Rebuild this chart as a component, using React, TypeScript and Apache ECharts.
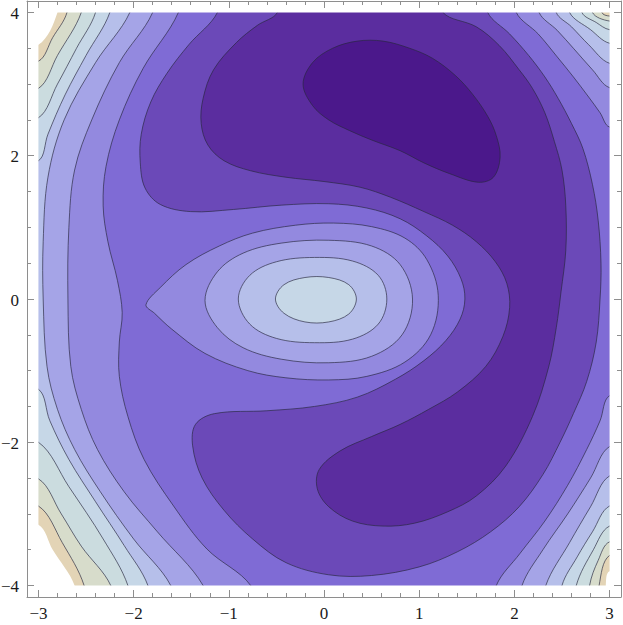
import React, { useEffect, useRef } from "react";
import * as echarts from "echarts";

type Pt = [number, number];

// ---------- axes ----------
const xRange: Pt = [-3, 3];
const yRange: Pt = [-4, 4];
const xMajorTicks = [-3, -2, -1, 0, 1, 2, 3];
const yMajorTicks = [-4, -2, 0, 2, 4];
const xMinorStep = 0.2;
const yMinorStep = 0.5;

// ---------- band colours, lowest value (0) to highest (10) ----------
const bandColors = [
  "#4b188b",
  "#5b2d9f",
  "#6b49b8",
  "#7f6bd5",
  "#9389df",
  "#a5a4e7",
  "#b6bfea",
  "#c6d7e7",
  "#cbdcdf",
  "#d7dccb",
  "#e3d4b6",
];

// ---------- closed contours inside the plot ----------
const blobLevel0: Pt[] = [
  [-0.22, 3.0], [-0.12, 3.3], [0.09, 3.5], [0.35, 3.6], [0.62, 3.6], [0.9, 3.5],
  [1.14, 3.36], [1.38, 3.12], [1.56, 2.86], [1.72, 2.55], [1.81, 2.28], [1.85, 1.98],
  [1.78, 1.7], [1.62, 1.63], [1.32, 1.75], [1.05, 1.9], [0.8, 2.07], [0.5, 2.22],
  [0.27, 2.35], [0.05, 2.5], [-0.12, 2.7],
];

const regionLevel1: Pt[] = [
  [1.25, 4], [1.6, 3.8], [1.84, 3.54], [2.05, 3.2], [2.19, 2.94], [2.32, 2.6], [2.42, 2.2],
  [2.5, 1.8], [2.54, 1.3], [2.54, 0.68], [2.49, 0.1], [2.44, -0.4], [2.36, -0.95],
  [2.19, -1.64], [1.91, -2.33], [1.6, -2.75], [1.3, -2.97], [0.95, -3.13], [0.62, -3.17],
  [0.3, -3.1], [0.05, -2.9], [-0.07, -2.65], [-0.05, -2.38], [0.17, -2.12], [0.5, -1.92],
  [0.8, -1.75], [1.1, -1.54], [1.4, -1.3], [1.7, -0.94], [1.88, -0.52], [1.95, -0.12],
  [1.92, 0.22], [1.8, 0.52], [1.6, 0.8], [1.35, 1.03], [1.05, 1.22], [0.7, 1.42],
  [0.38, 1.56], [0, 1.64], [-0.4, 1.7], [-0.77, 1.79], [-1.05, 1.93], [-1.22, 2.15],
  [-1.29, 2.45], [-1.27, 2.8], [-1.16, 3.2], [-0.92, 3.58], [-0.7, 3.82], [-0.49, 4],
];

const regionLevel2: Pt[] = [
  [1.72, 4], [1.95, 3.7], [2.15, 3.4], [2.32, 3.1], [2.46, 2.8], [2.6, 2.45], [2.72, 2.1],
  [2.82, 1.6], [2.88, 1.1], [2.91, 0.5], [2.9, 0], [2.86, -0.6], [2.76, -1.15], [2.62, -1.6],
  [2.48, -2.0], [2.3, -2.45], [2.05, -2.9], [1.75, -3.25], [1.4, -3.53], [1.0, -3.74],
  [0.5, -3.86], [0.05, -3.85], [-0.4, -3.68], [-0.75, -3.35], [-1.05, -2.95], [-1.28, -2.5],
  [-1.38, -2.05], [-1.35, -1.75], [-1.15, -1.6], [-0.6, -1.56], [-0.1, -1.5], [0.35, -1.37],
  [0.75, -1.12], [1.05, -0.86], [1.28, -0.58], [1.43, -0.28], [1.48, 0], [1.44, 0.28],
  [1.3, 0.6], [1.08, 0.88], [0.8, 1.12], [0.45, 1.27], [0.05, 1.33], [-0.45, 1.31],
  [-0.95, 1.25], [-1.4, 1.22], [-1.72, 1.32], [-1.88, 1.55], [-1.93, 1.9], [-1.92, 2.3],
  [-1.82, 2.75], [-1.65, 3.15], [-1.42, 3.55], [-1.12, 4],
];

const eyeLevel4: Pt[] = [
  [-1.87, -0.08], [-1.72, 0.16], [-1.45, 0.48], [-1.1, 0.74], [-0.75, 0.92], [-0.3, 1.03],
  [0.1, 1.06], [0.5, 1.01], [0.85, 0.85], [1.08, 0.55], [1.2, 0.05], [1.12, -0.5],
  [0.85, -0.88], [0.45, -1.08], [0.05, -1.13], [-0.4, -1.1], [-0.8, -1.0], [-1.25, -0.76],
  [-1.6, -0.42], [-1.78, -0.2],
];
const eyeLevel5: Pt[] = [
  [-1.25, -0.02], [-1.12, 0.38], [-0.85, 0.64], [-0.45, 0.78], [0.05, 0.82], [0.5, 0.74],
  [0.8, 0.48], [0.93, 0.0], [0.82, -0.5], [0.5, -0.8], [0.05, -0.89], [-0.45, -0.84],
  [-0.85, -0.68], [-1.12, -0.4],
];
const eyeLevel6: Pt[] = [
  [-0.9, 0], [-0.78, 0.33], [-0.5, 0.52], [-0.1, 0.58], [0.3, 0.53], [0.57, 0.33],
  [0.66, 0], [0.57, -0.35], [0.3, -0.56], [-0.1, -0.61], [-0.5, -0.55], [-0.78, -0.35],
];
const eyeLevel7: Pt[] = [
  [-0.51, 0], [-0.42, 0.2], [-0.2, 0.3], [0.05, 0.3], [0.26, 0.2], [0.34, 0],
  [0.26, -0.21], [0.05, -0.32], [-0.2, -0.32], [-0.42, -0.2],
];

// ---------- open contours that meet the plot edges (clockwise pieces) ----------
const outerLevel4: Pt[][] = [
  [[2.02, 4], [2.25, 3.7], [2.45, 3.38], [2.62, 3.1], [2.78, 2.82], [2.9, 2.6], [3, 2.4]],
  [[3, -1.35], [2.9, -1.7], [2.76, -2.1], [2.56, -2.6], [2.32, -3.1], [2.06, -3.55], [1.81, -4]],
  [[-0.77, -4], [-1.23, -3.49], [-1.58, -2.89], [-1.89, -2.24], [-2.06, -1.64], [-2.15, -1.08],
   [-2.15, -0.6], [-2.12, -0.19], [-2.17, 0.26], [-2.27, 0.8], [-2.32, 1.3], [-2.29, 1.85],
   [-2.15, 2.5], [-1.9, 3.22], [-1.53, 4]],
];
const outerLevel5: Pt[][] = [
  [[2.26, 4], [2.45, 3.75], [2.62, 3.5], [2.82, 3.2], [3, 2.95]],
  [[3, -2.06], [2.8, -2.5], [2.56, -3.0], [2.3, -3.5], [2.08, -4]],
  [[-1.27, -4], [-1.75, -3.25], [-2.1, -2.69], [-2.38, -2.1], [-2.55, -1.54], [-2.66, -0.94],
   [-2.69, 0], [-2.68, 1.0], [-2.62, 1.8], [-2.44, 2.5], [-2.15, 3.3], [-1.8, 4]],
];
const outerLevel6: Pt[][] = [
  [[2.44, 4], [2.6, 3.8], [2.78, 3.55], [3, 3.29]],
  [[3, -2.47], [2.8, -2.9], [2.58, -3.4], [2.33, -4]],
  [[-1.61, -4], [-2.0, -3.35], [-2.35, -2.69], [-2.62, -2.1], [-2.8, -1.54], [-2.91, -0.94],
   [-2.95, 0], [-2.95, 0.8], [-2.9, 1.7], [-2.73, 2.5], [-2.4, 3.3], [-2.04, 4]],
];
const outerLevel7: Pt[][] = [
  [[2.58, 4], [2.8, 3.76], [3, 3.57]],
  [[3, -2.89], [2.82, -3.25], [2.66, -3.6], [2.5, -4]],
  [[-1.85, -4], [-2.1, -3.44], [-2.4, -2.83], [-2.68, -2.24], [-2.88, -1.7], [-3, -1.26]],
  [[-3, 1.93], [-2.9, 2.3], [-2.72, 2.85], [-2.5, 3.4], [-2.25, 4]],
];
const outerLevel8: Pt[][] = [
  [[2.71, 4], [2.86, 3.86], [3, 3.76]],
  [[3, -3.17], [2.83, -3.5], [2.65, -4]],
  [[-2.06, -4], [-2.32, -3.35], [-2.68, -2.62], [-3, -2.0]],
  [[-3, 2.53], [-2.8, 3.0], [-2.6, 3.5], [-2.4, 4]],
];
const outerLevel9: Pt[][] = [
  [[2.82, 4], [3, 3.88]],
  [[3, -3.39], [2.88, -3.65], [2.79, -4]],
  [[-2.24, -4], [-2.55, -3.45], [-2.76, -3.0], [-3, -2.51]],
  [[-3, 2.94], [-2.8, 3.4], [-2.55, 4]],
];
const outerLevel10: Pt[][] = [
  [[2.92, 4], [3, 3.95]],
  [[3, -3.58], [2.89, -4]],
  [[-2.52, -4], [-2.75, -3.4], [-3, -2.89]],
  [[-3, 3.32], [-2.85, 3.65], [-2.7, 4]],
];
// edge of the plotted value range (beyond it the corners stay white)
const outerLevel11: Pt[][] = [
  [[3, -3.8], [2.96, -4]],
  [[-2.62, -4], [-2.85, -3.5], [-3, -3.15]],
  [[-3, 3.55], [-2.8, 4]],
];

// ---------- helpers ----------
const M = 0.35;
const EPS = 1e-9;
function edgeOf(p: Pt): number {
  const [x, y] = p;
  if (Math.abs(y - yRange[1]) < EPS) return 0;
  if (Math.abs(x - xRange[1]) < EPS) return 1;
  if (Math.abs(y - yRange[0]) < EPS) return 2;
  if (Math.abs(x - xRange[0]) < EPS) return 3;
  return -1;
}
function ext(p: Pt): Pt {
  const e = edgeOf(p);
  const [x, y] = p;
  if (e === 0) return [x, yRange[1] + M];
  if (e === 1) return [xRange[1] + M, y];
  if (e === 2) return [x, yRange[0] - M];
  return [xRange[0] - M, y];
}
const cornerAfter: Pt[] = [
  [xRange[1] + M, yRange[1] + M],
  [xRange[1] + M, yRange[0] - M],
  [xRange[0] - M, yRange[0] - M],
  [xRange[0] - M, yRange[1] + M],
];
function buildRing(pieces: Pt[][]): Pt[] {
  if (pieces.length === 1 && edgeOf(pieces[0][0]) < 0) return pieces[0];
  const out: Pt[] = [];
  pieces.forEach((pc, i) => {
    out.push(ext(pc[0]), ...pc, ext(pc[pc.length - 1]));
    const next = pieces[(i + 1) % pieces.length];
    let e = edgeOf(pc[pc.length - 1]);
    const en = edgeOf(next[0]);
    let guard = 0;
    while (e !== en && guard < 4) {
      out.push(cornerAfter[e]);
      e = (e + 1) % 4;
      guard++;
    }
  });
  return out;
}

type Layer = { ring: Pt[]; color: string; stroke: boolean };
const layers: Layer[] = [
  { ring: buildRing(outerLevel11), color: bandColors[10], stroke: false },
  { ring: buildRing(outerLevel10), color: bandColors[9], stroke: true },
  { ring: buildRing(outerLevel9), color: bandColors[8], stroke: true },
  { ring: buildRing(outerLevel8), color: bandColors[7], stroke: true },
  { ring: buildRing(outerLevel7), color: bandColors[6], stroke: true },
  { ring: buildRing(outerLevel6), color: bandColors[5], stroke: true },
  { ring: buildRing(outerLevel5), color: bandColors[4], stroke: true },
  { ring: buildRing(outerLevel4), color: bandColors[3], stroke: true },
  { ring: eyeLevel4, color: bandColors[4], stroke: true },
  { ring: eyeLevel5, color: bandColors[5], stroke: true },
  { ring: eyeLevel6, color: bandColors[6], stroke: true },
  { ring: eyeLevel7, color: bandColors[7], stroke: true },
  { ring: buildRing([regionLevel2]), color: bandColors[2], stroke: true },
  { ring: buildRing([regionLevel1]), color: bandColors[1], stroke: true },
  { ring: blobLevel0, color: bandColors[0], stroke: true },
];

function minorTicks(range: Pt, step: number, majors: number[]): number[] {
  const out: number[] = [];
  const n = Math.round((range[1] - range[0]) / step);
  for (let i = 0; i <= n; i++) {
    const v = Math.round((range[0] + i * step) * 100) / 100;
    if (!majors.some((m) => Math.abs(m - v) < 1e-6)) out.push(v);
  }
  return out;
}
const xMinorTicks = minorTicks(xRange, xMinorStep, xMajorTicks);
const yMinorTicks = minorTicks(yRange, yMinorStep, yMajorTicks);

const xPad = (xRange[1] - xRange[0]) * 0.02;
const yPad = (yRange[1] - yRange[0]) * 0.02;
const frameColor = "#8e8e8e";
const contourLine = "rgba(40,40,62,0.78)";
const labelFont = "Liberation Serif";
const fmt = (v: number) => (v < 0 ? "\u2212" + Math.abs(v) : String(v));

function axis(kind: "x" | "y", position: string, ticks: number[], major: boolean) {
  const range = kind === "x" ? xRange : yRange;
  const pad = kind === "x" ? xPad : yPad;
  return {
    type: "value",
    position,
    min: range[0] - pad,
    max: range[1] + pad,
    z: 10,
    axisLine: { show: major, onZero: false, lineStyle: { color: frameColor, width: 1 } },
    axisTick: {
      show: true,
      inside: true,
      length: major ? 7 : 4,
      customValues: ticks,
      lineStyle: { color: frameColor, width: 1 },
    },
    axisLabel: { show: false },
    splitLine: { show: false },
  };
}

export default function App() {
  const ref = useRef<HTMLDivElement>(null);
  useEffect(() => {
    const chart = echarts.init(ref.current!, null, { renderer: "svg" });
    chart.setOption({
      animation: false,
      grid: { left: 27, right: 2, top: 1, bottom: 28 },
      xAxis: [
        axis("x", "bottom", xMajorTicks, true),
        axis("x", "bottom", xMinorTicks, false),
        axis("x", "top", xMajorTicks, true),
        axis("x", "top", xMinorTicks, false),
      ],
      yAxis: [
        axis("y", "left", yMajorTicks, true),
        axis("y", "left", yMinorTicks, false),
        axis("y", "right", yMajorTicks, true),
        axis("y", "right", yMinorTicks, false),
      ],
      series: [
        {
          type: "custom",
          xAxisIndex: 0,
          yAxisIndex: 0,
          clip: true,
          z: 2,
          data: layers.map(() => [0, 0]),
          renderItem: (params: any, api: any) => {
            const layer = layers[params.dataIndex];
            const pts = layer.ring.map((p) => api.coord(p));
            return {
              type: "polygon",
              z2: params.dataIndex,
              shape: { points: pts, smooth: 0.35 },
              style: {
                fill: layer.color,
                stroke: layer.stroke ? contourLine : "none",
                lineWidth: 0.85,
              },
            };
          },
        },
        {
          type: "custom",
          xAxisIndex: 0,
          yAxisIndex: 0,
          z: 3,
          data: [[0, 0]],
          renderItem: (params: any, api: any) => {
            const cs = params.coordSys;
            const tl = api.coord([xRange[0], yRange[1]]);
            const br = api.coord([xRange[1], yRange[0]]);
            const G = 60;
            const x0 = cs.x - G, y0 = cs.y - G, x1 = cs.x + cs.width + G, y1 = cs.y + cs.height + G;
            const st = { fill: "#ffffff" };
            const textStyle = { fill: "#1a1a1a", fontSize: 17, fontFamily: labelFont };
            const xLabels = xMajorTicks.map((v) => ({
              type: "text",
              x: api.coord([v, yRange[0]])[0],
              y: cs.y + cs.height + 16,
              style: { ...textStyle, text: fmt(v), align: "center", verticalAlign: "middle" },
            }));
            const yLabels = yMajorTicks.map((v) => ({
              type: "text",
              x: cs.x - 8,
              y: api.coord([xRange[0], v])[1] + 1,
              style: { ...textStyle, text: fmt(v), align: "right", verticalAlign: "middle" },
            }));
            return {
              type: "group",
              children: [
                { type: "rect", shape: { x: x0, y: y0, width: x1 - x0, height: tl[1] - y0 }, style: st },
                { type: "rect", shape: { x: x0, y: br[1], width: x1 - x0, height: y1 - br[1] }, style: st },
                { type: "rect", shape: { x: x0, y: y0, width: tl[0] - x0, height: y1 - y0 }, style: st },
                { type: "rect", shape: { x: br[0], y: y0, width: x1 - br[0], height: y1 - y0 }, style: st },
                ...xLabels,
                ...yLabels,
              ],
            };
          },
        },
      ],
    });
    return () => chart.dispose();
  }, []);
  return (
    <div
      ref={ref}
      style={{ position: "absolute", left: 0, top: 0, width: 623, height: 625, background: "#fff" }}
    />
  );
}
